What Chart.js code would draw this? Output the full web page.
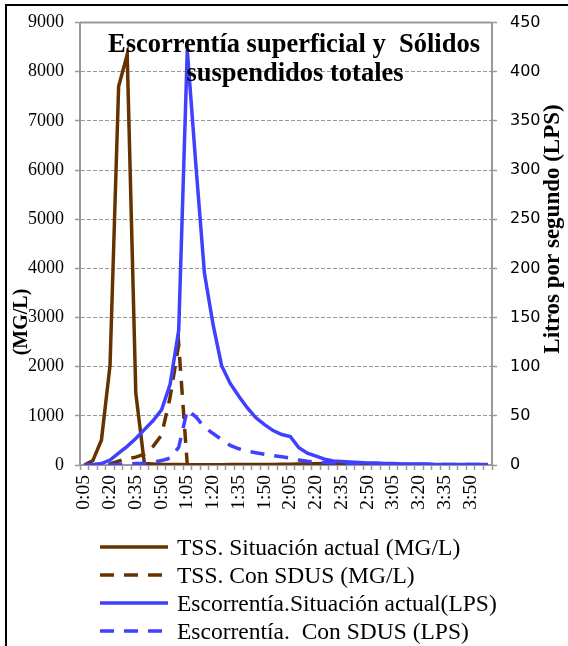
<!DOCTYPE html>
<html>
<head>
<meta charset="utf-8">
<script src="https://cdn.jsdelivr.net/npm/chart.js@4.4.1/dist/chart.umd.min.js"></script>
<style>
  html, body { margin: 0; padding: 0; background: #fff; overflow: hidden; }
  #wrap { position: relative; width: 568px; height: 646px; overflow: hidden; }
  #frame { position: absolute; left: 5px; top: 4px; width: 620px; height: 700px; border: 2px solid #000; box-sizing: border-box; }
  #c { position: absolute; left: 0; top: 0; }
  #legend { position: absolute; left: 100px; top: 533px; font-family: "Liberation Serif", serif; font-size: 23.5px; color: #000; }
  .row { display: flex; align-items: center; height: 28px; white-space: pre; }
  .row svg { margin-right: 9px; }
</style>
</head>
<body>
<div id="wrap">
  <div id="frame"></div>
  <canvas id="c" width="568" height="646"></canvas>
  <div id="legend"></div>
</div>
<script>
const labels = ['0:05','0:10','0:15','0:20','0:25','0:30','0:35','0:40','0:45','0:50','0:55',
  '1:00','1:05','1:10','1:15','1:20','1:25','1:30','1:35','1:40','1:45','1:50','1:55',
  '2:00','2:05','2:10','2:15','2:20','2:25','2:30','2:35','2:40','2:45','2:50','2:55',
  '3:00','3:05','3:10','3:15','3:20','3:25','3:30','3:35','3:40','3:45','3:50','3:55','4:00'];

// TSS (MG/L) - left axis
const tssActual = [0, 90, 510, 2030, 7700, 8350, 1460, 30, 20, 10, 10, 10, 5, 5, 5, 5, 5,
  10, 10, 10, 10, 10, 10, 15, 15, 20, 25, 25, 30, 30, 25, 20, 15, 20, 30, 20, 15,
  10, 10, 10, 5, 5, 5, 5, 5, 5, 5, 5];
const tssSdus = [0, 0, 0, 20, 80, 130, 160, 220, 375, 610, 1380, 2450, 0,
  0, 0, 0, 0, 0, 0, 0, 0, 0, 0, 0, 0, 0, 0, 0, 0, 0, 0, 0, 0, 0, 0, 0, 0, 0, 0, 0, 0, 0, 0, 0, 0, 0, 0, 0];

// Escorrentia (LPS) - right axis
const escActual = [0, 0.5, 1.5, 5, 12, 19, 27, 36, 45, 56, 82, 137, 422, 305, 195, 143, 101, 83,
  70, 58, 48, 41, 35, 31, 29, 17.5, 12, 9, 6, 4, 3.5, 3, 2.5, 2, 2, 1.5, 1.5,
  1, 1, 1, 1, 0.5, 0.5, 0.5, 0.5, 0.5, 0.5, 0.5];
const escSdus = [0, 0, 0, 0, 0.5, 1, 1.5, 1.5, 2.5, 4.5, 7, 18, 56, 49, 38.5, 32, 26, 20,
  16.5, 14, 12.5, 11, 9.5, 8.3, 7.2, 5, 3.8, 3, 2.5, 2, 1.5, 1.5,
  1, 1, 1, 1, 1, 0.5, 0.5, 0.5, 0.5, 0.5, 0.5, 0.5, 0.5, 0.5, 0.5, 0.5];

const seriesNames = ['TSS. Situación actual (MG/L)', 'TSS. Con SDUS (MG/L)',
  'Escorrentía.Situación actual(LPS)', 'Escorrentía.  Con SDUS (LPS)'];

const brown = '#663300';
const blue = '#4040FF';
const grey = '#999999';
const dash = [14, 10];
const serif = 'Liberation Serif';

const titlesPlugin = {
  id: 'titles',
  beforeDatasetsDraw(chart) {
    const { ctx, chartArea: a } = chart;
    ctx.save();
    ctx.strokeStyle = grey;
    ctx.lineWidth = 2;
    ctx.beginPath();
    ctx.moveTo(a.left, a.top);
    ctx.lineTo(a.right, a.top);
    ctx.stroke();
    ctx.restore();
  },
  afterDatasetsDraw(chart) {
    const { ctx } = chart;
    ctx.save();
    ctx.fillStyle = '#000';
    ctx.textAlign = 'center';
    ctx.textBaseline = 'alphabetic';
    ctx.font = 'bold 26.5px "' + serif + '"';
    ctx.fillText('Escorrentía superficial y  Sólidos', 294, 52);
    ctx.fillText('suspendidos totales', 295, 81);

    ctx.textBaseline = 'middle';
    ctx.font = 'bold 20px "' + serif + '"';
    ctx.translate(22, 322);
    ctx.rotate(-Math.PI / 2);
    ctx.fillText('(MG/L)', 0, 0);
    ctx.restore();

    ctx.save();
    ctx.fillStyle = '#000';
    ctx.textAlign = 'center';
    ctx.textBaseline = 'middle';
    ctx.font = 'bold 23px "' + serif + '"';
    ctx.translate(553, 229);
    ctx.rotate(-Math.PI / 2);
    ctx.fillText('Litros por segundo (LPS)', 0, 0);
    ctx.restore();
  }
};

const chart = new Chart(document.getElementById('c'), {
  type: 'line',
  data: {
    labels: labels,
    datasets: [
      { label: seriesNames[0], data: tssActual, yAxisID: 'yL', borderColor: brown, borderWidth: 3.5, order: 2 },
      { label: seriesNames[1], data: tssSdus, yAxisID: 'yL', borderColor: brown, borderWidth: 3.5, borderDash: dash, order: 3 },
      { label: seriesNames[2], data: escActual, yAxisID: 'yR', borderColor: blue, borderWidth: 3.5, order: 0 },
      { label: seriesNames[3], data: escSdus, yAxisID: 'yR', borderColor: blue, borderWidth: 3.5, borderDash: dash, order: 1 }
    ]
  },
  options: {
    responsive: false,
    animation: false,
    devicePixelRatio: 1,
    layout: { padding: { left: 8, right: 0, top: 22, bottom: 121 } },
    elements: { point: { radius: 0 }, line: { tension: 0, fill: false } },
    plugins: { legend: { display: false }, title: { display: false }, tooltip: { enabled: false } },
    scales: {
      x: {
        type: 'category',
        offset: true,
        afterFit: (s) => { s.height = 60; },
        grid: { display: true, offset: true, drawOnChartArea: false, drawTicks: true, tickLength: 5, color: grey, tickWidth: 1.5 },
        border: { display: true, color: grey, width: 2 },
        ticks: {
          autoSkip: false, minRotation: 90, maxRotation: 90, padding: 5,
          color: '#000', font: { family: serif, size: 19.5 },
          callback: (v, i) => (i % 3 === 0 ? labels[i] : '')
        }
      },
      yL: {
        position: 'left',
        min: 0, max: 9000,
        afterFit: (s) => { s.width = 72; },
        grid: { color: grey, lineWidth: 1, tickLength: 5, drawTicks: true, tickWidth: 1.5 },
        border: { display: true, color: grey, width: 2, dash: [4, 2] },
        ticks: { stepSize: 1000, padding: 11, color: '#000', font: { family: serif, size: 18 },
          callback: (v) => String(v) }
      },
      yR: {
        position: 'right',
        min: 0, max: 450,
        afterFit: (s) => { s.width = 76; },
        grid: { drawOnChartArea: false, drawTicks: true, tickLength: 5, color: grey, tickWidth: 1.5 },
        border: { display: true, color: grey, width: 2 },
        ticks: { stepSize: 50, padding: 13, color: '#000', font: { family: 'DejaVu Sans', size: 16 } }
      }
    }
  },
  plugins: [titlesPlugin]
});

// legend rows, built from the datasets
const legendEl = document.getElementById('legend');
chart.data.datasets.forEach((ds) => {
  const row = document.createElement('div');
  row.className = 'row';
  const da = ds.borderDash ? ds.borderDash.join(' ') : 'none';
  row.innerHTML = '<svg width="68" height="8"><line x1="0" y1="4" x2="68" y2="4" stroke="' + ds.borderColor +
    '" stroke-width="3.5" stroke-dasharray="' + da + '"/></svg>';
  const span = document.createElement('span');
  span.textContent = ds.label;
  row.appendChild(span);
  legendEl.appendChild(row);
});
</script>
</body>
</html>
